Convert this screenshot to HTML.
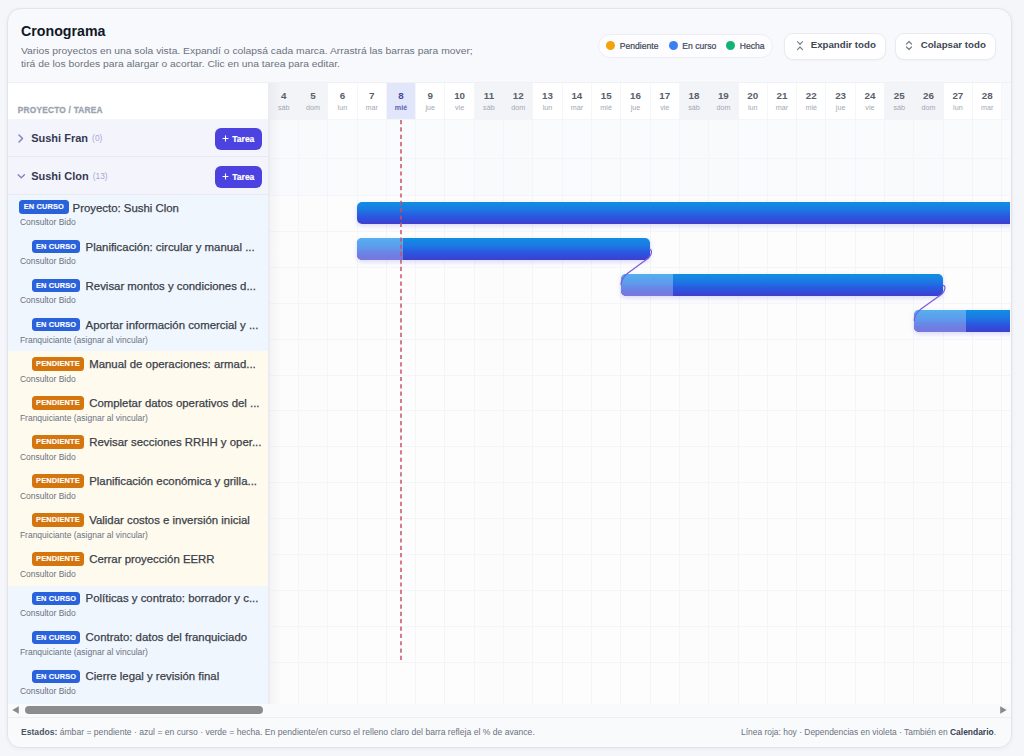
<!DOCTYPE html><html><head><meta charset="utf-8"><title>Cronograma</title><style>
*{box-sizing:border-box;margin:0;padding:0}
html,body{width:1024px;height:756px;overflow:hidden;background:#f5f6f9;font-family:"Liberation Sans",sans-serif}
.a{position:absolute}
.card{left:7px;top:8px;width:1005px;height:740px;border:1px solid #e2e4eb;border-radius:14px;background:#f8f9fc;box-shadow:0 1px 4px rgba(30,30,80,.06);overflow:hidden}
.t{white-space:nowrap;line-height:1}
.title{left:21px;top:22.8px;font-size:15.2px;font-weight:700;color:#111827;transform:scaleX(.935);transform-origin:0 0}
.sub{left:21px;font-size:9.7px;color:#6b7280;transform:scaleX(1.065);transform-origin:0 0}
.pill{left:598px;top:34px;width:175px;height:23.5px;border:1px solid #eceef3;border-radius:12px;background:#fdfdff}
.dot{width:9.5px;height:9.5px;border-radius:50%}
.lg{font-size:8.6px;color:#404755;top:41.5px;-webkit-text-stroke:.2px #404755}
.btn{top:32.5px;height:27px;border:1px solid #e8eaef;border-radius:9px;background:#fff;box-shadow:0 1px 2px rgba(20,20,50,.03)}
.bt{font-size:9.7px;font-weight:700;color:#404653;top:40px}
.hdrdiv{left:8px;top:82px;width:1003px;height:1px;background:#f0f1f5}
.lp{left:8px;top:83px;width:260.6px;height:621px;background:#fff}
.ph{left:17.7px;top:105.5px;font-size:8.3px;font-weight:700;color:#9ca3af;letter-spacing:.24px;-webkit-text-stroke:.3px #9ca3af}
.grp{left:8px;width:260px;background:#f4f5fc;border-bottom:1px solid #e8e9f3}
.gname{left:31.2px;font-size:11px;font-weight:700;color:#363a52}
.gcnt{font-size:8.4px;font-weight:400;color:#a9a7d4;position:relative;top:-1.2px;margin-left:1px}
.tb{left:214.6px;width:47px;height:22.6px;border-radius:6px;background:#4c42e0}
.tbt{font-size:8.5px;font-weight:700;color:#fff;-webkit-text-stroke:.2px #fff}
.row{left:8px;width:260px}
.rc{background:#f0f6fe}
.rp{background:#fefaee}
.badge{height:14px;border-radius:3.5px;font-size:7.4px;font-weight:700;color:#fff;line-height:14px;text-align:center;letter-spacing:.15px;-webkit-text-stroke:.15px #fff}
.bc{background:#2a62dc}
.bp{background:#d4750e}
.tt{font-size:11.4px;color:#3a3e48;-webkit-text-stroke:.25px #3a3e48}
.who{font-size:8.5px;color:#6b7280}
.tl{left:268.6px;top:83px;width:741.6px;height:621px;overflow:hidden;background:#fdfdfe}
.vl{width:1px;background:#f4f5f8}
.hl{height:1px;background:#f4f5f8}
.bar{height:22.6px;border-radius:5px;background:linear-gradient(180deg,#0f8fe2 0%,#1d78e4 35%,#2a58e0 65%,#3d3fcf 100%);box-shadow:0 2px 5px rgba(70,70,220,.2);overflow:hidden}
.prog{left:0;top:0;height:22.6px;background:linear-gradient(180deg,#55b0ee 0%,#5f98ec 45%,#6c82e4 70%,#7876dc 100%)}
.foot{left:8px;top:717px;width:1003px;height:30px;background:#f9fafc;border-top:1px solid #eceef2;border-radius:0 0 13px 13px}
.ft{font-size:8.6px;color:#6b7280;top:728px}
</style></head><body><div class="a card"></div>
<div class="a t title">Cronograma</div>
<div class="a t sub" style="top:45.5px">Varios proyectos en una sola vista. Expandí o colapsá cada marca. Arrastrá las barras para mover;</div>
<div class="a t sub" style="top:58.7px">tirá de los bordes para alargar o acortar. Clic en una tarea para editar.</div>
<div class="a pill"></div>
<div class="a dot" style="left:605.6px;top:40.9px;background:#f4a10b"></div>
<div class="a t lg" style="left:619.8px">Pendiente</div>
<div class="a dot" style="left:668.6px;top:40.9px;background:#3b7ff2"></div>
<div class="a t lg" style="left:682.3px">En curso</div>
<div class="a dot" style="left:725.5px;top:40.9px;background:#12b374"></div>
<div class="a t lg" style="left:739.8px">Hecha</div>
<div class="a btn" style="left:783.5px;width:102.6px"></div>
<svg class="a" style="left:796px;top:40px" width="8" height="11" viewBox="0 0 8 11"><path d="M1.5 1.6 L4 4.3 L6.5 1.6 M1.5 9.6 L4 7 L6.5 9.6" fill="none" stroke="#7a808a" stroke-width="1.2" stroke-linecap="round" stroke-linejoin="round"/></svg>
<div class="a t bt" style="left:810.7px">Expandir todo</div>
<div class="a btn" style="left:895.3px;width:100.8px"></div>
<svg class="a" style="left:905.2px;top:40px" width="8" height="11" viewBox="0 0 8 11"><path d="M1.5 4 L4 1.5 L6.5 4 M1.5 7 L4 9.5 L6.5 7" fill="none" stroke="#7a808a" stroke-width="1.2" stroke-linecap="round" stroke-linejoin="round"/></svg>
<div class="a t bt" style="left:920.7px">Colapsar todo</div>
<div class="a hdrdiv"></div>
<div class="a tl"><div class="a" style="left:0.00px;top:0;width:29.31px;height:36px;background:#f2f4f8"></div><div class="a t" style="left:0.00px;width:29.31px;top:7.6px;text-align:center;font-size:9.8px;font-weight:700;color:#585f6c;text-indent:1px">4</div><div class="a t" style="left:0.00px;width:29.31px;top:20.7px;text-align:center;font-size:7.2px;text-indent:1px;font-weight:400;color:#a3a8b3">sáb</div><div class="a" style="left:29.31px;top:0;width:29.31px;height:36px;background:#f2f4f8"></div><div class="a t" style="left:29.31px;width:29.31px;top:7.6px;text-align:center;font-size:9.8px;font-weight:700;color:#585f6c;text-indent:1px">5</div><div class="a t" style="left:29.31px;width:29.31px;top:20.7px;text-align:center;font-size:7.2px;text-indent:1px;font-weight:400;color:#a3a8b3">dom</div><div class="a" style="left:58.62px;top:0;width:29.31px;height:36px;background:#fff"></div><div class="a t" style="left:58.62px;width:29.31px;top:7.6px;text-align:center;font-size:9.8px;font-weight:700;color:#585f6c;text-indent:1px">6</div><div class="a t" style="left:58.62px;width:29.31px;top:20.7px;text-align:center;font-size:7.2px;text-indent:1px;font-weight:400;color:#a3a8b3">lun</div><div class="a" style="left:87.93px;top:0;width:29.31px;height:36px;background:#fff"></div><div class="a t" style="left:87.93px;width:29.31px;top:7.6px;text-align:center;font-size:9.8px;font-weight:700;color:#585f6c;text-indent:1px">7</div><div class="a t" style="left:87.93px;width:29.31px;top:20.7px;text-align:center;font-size:7.2px;text-indent:1px;font-weight:400;color:#a3a8b3">mar</div><div class="a" style="left:117.24px;top:0;width:29.31px;height:36px;background:#e2e6fb"></div><div class="a t" style="left:117.24px;width:29.31px;top:7.6px;text-align:center;font-size:9.8px;font-weight:700;color:#48489a;text-indent:1px">8</div><div class="a t" style="left:117.24px;width:29.31px;top:20.7px;text-align:center;font-size:7.2px;text-indent:1px;font-weight:700;color:#5f5db2">mié</div><div class="a" style="left:146.55px;top:0;width:29.31px;height:36px;background:#fff"></div><div class="a t" style="left:146.55px;width:29.31px;top:7.6px;text-align:center;font-size:9.8px;font-weight:700;color:#585f6c;text-indent:1px">9</div><div class="a t" style="left:146.55px;width:29.31px;top:20.7px;text-align:center;font-size:7.2px;text-indent:1px;font-weight:400;color:#a3a8b3">jue</div><div class="a" style="left:175.86px;top:0;width:29.31px;height:36px;background:#fff"></div><div class="a t" style="left:175.86px;width:29.31px;top:7.6px;text-align:center;font-size:9.8px;font-weight:700;color:#585f6c;text-indent:1px">10</div><div class="a t" style="left:175.86px;width:29.31px;top:20.7px;text-align:center;font-size:7.2px;text-indent:1px;font-weight:400;color:#a3a8b3">vie</div><div class="a" style="left:205.17px;top:0;width:29.31px;height:36px;background:#f2f4f8"></div><div class="a t" style="left:205.17px;width:29.31px;top:7.6px;text-align:center;font-size:9.8px;font-weight:700;color:#585f6c;text-indent:1px">11</div><div class="a t" style="left:205.17px;width:29.31px;top:20.7px;text-align:center;font-size:7.2px;text-indent:1px;font-weight:400;color:#a3a8b3">sáb</div><div class="a" style="left:234.48px;top:0;width:29.31px;height:36px;background:#f2f4f8"></div><div class="a t" style="left:234.48px;width:29.31px;top:7.6px;text-align:center;font-size:9.8px;font-weight:700;color:#585f6c;text-indent:1px">12</div><div class="a t" style="left:234.48px;width:29.31px;top:20.7px;text-align:center;font-size:7.2px;text-indent:1px;font-weight:400;color:#a3a8b3">dom</div><div class="a" style="left:263.79px;top:0;width:29.31px;height:36px;background:#fff"></div><div class="a t" style="left:263.79px;width:29.31px;top:7.6px;text-align:center;font-size:9.8px;font-weight:700;color:#585f6c;text-indent:1px">13</div><div class="a t" style="left:263.79px;width:29.31px;top:20.7px;text-align:center;font-size:7.2px;text-indent:1px;font-weight:400;color:#a3a8b3">lun</div><div class="a" style="left:293.10px;top:0;width:29.31px;height:36px;background:#fff"></div><div class="a t" style="left:293.10px;width:29.31px;top:7.6px;text-align:center;font-size:9.8px;font-weight:700;color:#585f6c;text-indent:1px">14</div><div class="a t" style="left:293.10px;width:29.31px;top:20.7px;text-align:center;font-size:7.2px;text-indent:1px;font-weight:400;color:#a3a8b3">mar</div><div class="a" style="left:322.41px;top:0;width:29.31px;height:36px;background:#fff"></div><div class="a t" style="left:322.41px;width:29.31px;top:7.6px;text-align:center;font-size:9.8px;font-weight:700;color:#585f6c;text-indent:1px">15</div><div class="a t" style="left:322.41px;width:29.31px;top:20.7px;text-align:center;font-size:7.2px;text-indent:1px;font-weight:400;color:#a3a8b3">mié</div><div class="a" style="left:351.72px;top:0;width:29.31px;height:36px;background:#fff"></div><div class="a t" style="left:351.72px;width:29.31px;top:7.6px;text-align:center;font-size:9.8px;font-weight:700;color:#585f6c;text-indent:1px">16</div><div class="a t" style="left:351.72px;width:29.31px;top:20.7px;text-align:center;font-size:7.2px;text-indent:1px;font-weight:400;color:#a3a8b3">jue</div><div class="a" style="left:381.03px;top:0;width:29.31px;height:36px;background:#fff"></div><div class="a t" style="left:381.03px;width:29.31px;top:7.6px;text-align:center;font-size:9.8px;font-weight:700;color:#585f6c;text-indent:1px">17</div><div class="a t" style="left:381.03px;width:29.31px;top:20.7px;text-align:center;font-size:7.2px;text-indent:1px;font-weight:400;color:#a3a8b3">vie</div><div class="a" style="left:410.34px;top:0;width:29.31px;height:36px;background:#f2f4f8"></div><div class="a t" style="left:410.34px;width:29.31px;top:7.6px;text-align:center;font-size:9.8px;font-weight:700;color:#585f6c;text-indent:1px">18</div><div class="a t" style="left:410.34px;width:29.31px;top:20.7px;text-align:center;font-size:7.2px;text-indent:1px;font-weight:400;color:#a3a8b3">sáb</div><div class="a" style="left:439.65px;top:0;width:29.31px;height:36px;background:#f2f4f8"></div><div class="a t" style="left:439.65px;width:29.31px;top:7.6px;text-align:center;font-size:9.8px;font-weight:700;color:#585f6c;text-indent:1px">19</div><div class="a t" style="left:439.65px;width:29.31px;top:20.7px;text-align:center;font-size:7.2px;text-indent:1px;font-weight:400;color:#a3a8b3">dom</div><div class="a" style="left:468.96px;top:0;width:29.31px;height:36px;background:#fff"></div><div class="a t" style="left:468.96px;width:29.31px;top:7.6px;text-align:center;font-size:9.8px;font-weight:700;color:#585f6c;text-indent:1px">20</div><div class="a t" style="left:468.96px;width:29.31px;top:20.7px;text-align:center;font-size:7.2px;text-indent:1px;font-weight:400;color:#a3a8b3">lun</div><div class="a" style="left:498.27px;top:0;width:29.31px;height:36px;background:#fff"></div><div class="a t" style="left:498.27px;width:29.31px;top:7.6px;text-align:center;font-size:9.8px;font-weight:700;color:#585f6c;text-indent:1px">21</div><div class="a t" style="left:498.27px;width:29.31px;top:20.7px;text-align:center;font-size:7.2px;text-indent:1px;font-weight:400;color:#a3a8b3">mar</div><div class="a" style="left:527.58px;top:0;width:29.31px;height:36px;background:#fff"></div><div class="a t" style="left:527.58px;width:29.31px;top:7.6px;text-align:center;font-size:9.8px;font-weight:700;color:#585f6c;text-indent:1px">22</div><div class="a t" style="left:527.58px;width:29.31px;top:20.7px;text-align:center;font-size:7.2px;text-indent:1px;font-weight:400;color:#a3a8b3">mié</div><div class="a" style="left:556.89px;top:0;width:29.31px;height:36px;background:#fff"></div><div class="a t" style="left:556.89px;width:29.31px;top:7.6px;text-align:center;font-size:9.8px;font-weight:700;color:#585f6c;text-indent:1px">23</div><div class="a t" style="left:556.89px;width:29.31px;top:20.7px;text-align:center;font-size:7.2px;text-indent:1px;font-weight:400;color:#a3a8b3">jue</div><div class="a" style="left:586.20px;top:0;width:29.31px;height:36px;background:#fff"></div><div class="a t" style="left:586.20px;width:29.31px;top:7.6px;text-align:center;font-size:9.8px;font-weight:700;color:#585f6c;text-indent:1px">24</div><div class="a t" style="left:586.20px;width:29.31px;top:20.7px;text-align:center;font-size:7.2px;text-indent:1px;font-weight:400;color:#a3a8b3">vie</div><div class="a" style="left:615.51px;top:0;width:29.31px;height:36px;background:#f2f4f8"></div><div class="a t" style="left:615.51px;width:29.31px;top:7.6px;text-align:center;font-size:9.8px;font-weight:700;color:#585f6c;text-indent:1px">25</div><div class="a t" style="left:615.51px;width:29.31px;top:20.7px;text-align:center;font-size:7.2px;text-indent:1px;font-weight:400;color:#a3a8b3">sáb</div><div class="a" style="left:644.82px;top:0;width:29.31px;height:36px;background:#f2f4f8"></div><div class="a t" style="left:644.82px;width:29.31px;top:7.6px;text-align:center;font-size:9.8px;font-weight:700;color:#585f6c;text-indent:1px">26</div><div class="a t" style="left:644.82px;width:29.31px;top:20.7px;text-align:center;font-size:7.2px;text-indent:1px;font-weight:400;color:#a3a8b3">dom</div><div class="a" style="left:674.13px;top:0;width:29.31px;height:36px;background:#fff"></div><div class="a t" style="left:674.13px;width:29.31px;top:7.6px;text-align:center;font-size:9.8px;font-weight:700;color:#585f6c;text-indent:1px">27</div><div class="a t" style="left:674.13px;width:29.31px;top:20.7px;text-align:center;font-size:7.2px;text-indent:1px;font-weight:400;color:#a3a8b3">lun</div><div class="a" style="left:703.44px;top:0;width:29.31px;height:36px;background:#fff"></div><div class="a t" style="left:703.44px;width:29.31px;top:7.6px;text-align:center;font-size:9.8px;font-weight:700;color:#585f6c;text-indent:1px">28</div><div class="a t" style="left:703.44px;width:29.31px;top:20.7px;text-align:center;font-size:7.2px;text-indent:1px;font-weight:400;color:#a3a8b3">mar</div><div class="a" style="left:732.75px;top:0;width:29.31px;height:36px;background:#f8f9fc"></div><div class="a" style="left:0.00px;top:36px;width:29.31px;height:585px;background:#fcfcfd"></div><div class="a" style="left:29.31px;top:36px;width:29.31px;height:585px;background:#fcfcfd"></div><div class="a" style="left:205.17px;top:36px;width:29.31px;height:585px;background:#fcfcfd"></div><div class="a" style="left:234.48px;top:36px;width:29.31px;height:585px;background:#fcfcfd"></div><div class="a" style="left:410.34px;top:36px;width:29.31px;height:585px;background:#fcfcfd"></div><div class="a" style="left:439.65px;top:36px;width:29.31px;height:585px;background:#fcfcfd"></div><div class="a" style="left:615.51px;top:36px;width:29.31px;height:585px;background:#fcfcfd"></div><div class="a" style="left:644.82px;top:36px;width:29.31px;height:585px;background:#fcfcfd"></div><div class="a" style="left:0;top:36px;width:742px;height:76px;background:rgba(244,245,250,.35)"></div><div class="a vl" style="left:0.00px;top:0;height:621px"></div><div class="a vl" style="left:29.31px;top:0;height:621px"></div><div class="a vl" style="left:58.62px;top:0;height:621px"></div><div class="a vl" style="left:87.93px;top:0;height:621px"></div><div class="a vl" style="left:117.24px;top:0;height:621px"></div><div class="a vl" style="left:146.55px;top:0;height:621px"></div><div class="a vl" style="left:175.86px;top:0;height:621px"></div><div class="a vl" style="left:205.17px;top:0;height:621px"></div><div class="a vl" style="left:234.48px;top:0;height:621px"></div><div class="a vl" style="left:263.79px;top:0;height:621px"></div><div class="a vl" style="left:293.10px;top:0;height:621px"></div><div class="a vl" style="left:322.41px;top:0;height:621px"></div><div class="a vl" style="left:351.72px;top:0;height:621px"></div><div class="a vl" style="left:381.03px;top:0;height:621px"></div><div class="a vl" style="left:410.34px;top:0;height:621px"></div><div class="a vl" style="left:439.65px;top:0;height:621px"></div><div class="a vl" style="left:468.96px;top:0;height:621px"></div><div class="a vl" style="left:498.27px;top:0;height:621px"></div><div class="a vl" style="left:527.58px;top:0;height:621px"></div><div class="a vl" style="left:556.89px;top:0;height:621px"></div><div class="a vl" style="left:586.20px;top:0;height:621px"></div><div class="a vl" style="left:615.51px;top:0;height:621px"></div><div class="a vl" style="left:644.82px;top:0;height:621px"></div><div class="a vl" style="left:674.13px;top:0;height:621px"></div><div class="a vl" style="left:703.44px;top:0;height:621px"></div><div class="a vl" style="left:732.75px;top:0;height:621px"></div><div class="a vl" style="left:762.06px;top:0;height:621px"></div><div class="a hl" style="left:0;top:36.00px;width:742px"></div><div class="a hl" style="left:0;top:74.60px;width:742px"></div><div class="a hl" style="left:0;top:112.00px;width:742px"></div><div class="a hl" style="left:0;top:147.90px;width:742px"></div><div class="a hl" style="left:0;top:183.80px;width:742px"></div><div class="a hl" style="left:0;top:219.70px;width:742px"></div><div class="a hl" style="left:0;top:255.60px;width:742px"></div><div class="a hl" style="left:0;top:291.50px;width:742px"></div><div class="a hl" style="left:0;top:327.40px;width:742px"></div><div class="a hl" style="left:0;top:363.30px;width:742px"></div><div class="a hl" style="left:0;top:399.20px;width:742px"></div><div class="a hl" style="left:0;top:435.10px;width:742px"></div><div class="a hl" style="left:0;top:471.00px;width:742px"></div><div class="a hl" style="left:0;top:506.90px;width:742px"></div><div class="a hl" style="left:0;top:542.80px;width:742px"></div><div class="a hl" style="left:0;top:578.70px;width:742px"></div><div class="a bar" style="left:88.23px;top:118.80px;width:849.79px"></div><div class="a bar" style="left:88.23px;top:154.70px;width:292.90px"><div class="a prog" style="width:46.37px"></div></div><div class="a bar" style="left:352.02px;top:190.60px;width:322.21px"><div class="a prog" style="width:52.18px"></div></div><div class="a bar" style="left:645.12px;top:226.50px;width:322.21px"><div class="a prog" style="width:52.28px"></div></div><svg class="a" style="left:0;top:0" width="742" height="620"><path d="M380.1 166.2 C383.6 166.2,383.1 171.7,379.1 175.2 L358.7 190.3 C353.7 194.3,352.0 197.3,352.0 202.3" fill="none" stroke="#7d5cdc" stroke-width="1.25"/><path d="M673.6 202.3 C677.1 202.3,676.6 207.8,672.6 211.3 L652.0 226.0 C647.0 230.0,645.3 233.0,645.3 238.0" fill="none" stroke="#7d5cdc" stroke-width="1.25"/></svg><svg class="a" style="left:131.20px;top:37px" width="2" height="540"><line x1="1" y1="0" x2="1" y2="540" stroke="#c65263" stroke-width="1.5" stroke-dasharray="4.2 3.14"/></svg><div class="a" style="left:0;top:0;width:12px;height:621px;background:linear-gradient(90deg,rgba(20,30,60,.04),rgba(20,30,60,0))"></div></div>
<div class="a lp"></div>
<div class="a" style="left:268px;top:83px;width:1px;height:621px;background:#e9ebf1"></div>
<div class="a" style="left:8px;top:118.5px;width:260.6px;height:1px;background:#eceef3"></div>
<div class="a t ph">PROYECTO / TAREA</div>
<div class="a grp" style="top:119px;height:38.3px"></div>
<svg class="a" style="left:17px;top:134px" width="8" height="9" viewBox="0 0 8 9"><path d="M2 1 L5.5 4.5 L2 8" fill="none" stroke="#8583c0" stroke-width="1.45" stroke-linecap="round" stroke-linejoin="round"/></svg>
<div class="a t gname" style="top:133.2px">Sushi Fran <span class="gcnt">(0)</span></div>
<div class="a tb" style="top:127.5px"></div><svg class="a" style="left:221.8px;top:135.4px" width="7" height="7" viewBox="0 0 7 7"><path d="M3.5 0.6 V6.4 M0.6 3.5 H6.4" stroke="#fff" stroke-width="1.1"/></svg><div class="a t tbt" style="left:232.3px;top:134.5px">Tarea</div>
<div class="a grp" style="top:157.3px;height:37.7px"></div>
<svg class="a" style="left:16.5px;top:173px" width="9" height="7" viewBox="0 0 9 7"><path d="M1.2 1.7 L4.3 4.8 L7.4 1.7" fill="none" stroke="#8583c0" stroke-width="1.45" stroke-linecap="round" stroke-linejoin="round"/></svg>
<div class="a t gname" style="top:171.3px">Sushi Clon <span class="gcnt">(13)</span></div>
<div class="a tb" style="top:165.5px"></div><svg class="a" style="left:221.8px;top:173.4px" width="7" height="7" viewBox="0 0 7 7"><path d="M3.5 0.6 V6.4 M0.6 3.5 H6.4" stroke="#fff" stroke-width="1.1"/></svg><div class="a t tbt" style="left:232.3px;top:172.5px">Tarea</div>
<div class="a row rc" style="top:195.00px;height:39.08px"></div>
<div class="a t badge bc" style="left:19.20px;top:200.10px;width:49.40px;height:14.10px;line-height:14.10px">EN CURSO</div>
<div class="a t tt" style="left:72.60px;top:202.50px">Proyecto: Sushi Clon</div>
<div class="a t who" style="left:19.9px;top:218.30px">Consultor Bido</div>
<div class="a row rc" style="top:234.08px;height:39.08px"></div>
<div class="a t badge bc" style="left:32.20px;top:240.08px;width:47.90px;height:13.20px;line-height:13.20px">EN CURSO</div>
<div class="a t tt" style="left:85.60px;top:241.58px">Planificación: circular y manual ...</div>
<div class="a t who" style="left:19.9px;top:257.38px">Consultor Bido</div>
<div class="a row rc" style="top:273.16px;height:39.08px"></div>
<div class="a t badge bc" style="left:32.20px;top:279.16px;width:47.90px;height:13.20px;line-height:13.20px">EN CURSO</div>
<div class="a t tt" style="left:85.60px;top:280.66px">Revisar montos y condiciones d...</div>
<div class="a t who" style="left:19.9px;top:296.46px">Consultor Bido</div>
<div class="a row rc" style="top:312.24px;height:39.08px"></div>
<div class="a t badge bc" style="left:32.20px;top:318.24px;width:47.90px;height:13.20px;line-height:13.20px">EN CURSO</div>
<div class="a t tt" style="left:85.60px;top:319.74px">Aportar información comercial y ...</div>
<div class="a t who" style="left:19.9px;top:335.54px">Franquiciante (asignar al vincular)</div>
<div class="a row rp" style="top:351.32px;height:39.08px"></div>
<div class="a t badge bp" style="left:32.10px;top:356.72px;width:51.60px;height:14.00px;line-height:14.00px">PENDIENTE</div>
<div class="a t tt" style="left:89.20px;top:358.82px">Manual de operaciones: armad...</div>
<div class="a t who" style="left:19.9px;top:374.62px">Consultor Bido</div>
<div class="a row rp" style="top:390.40px;height:39.08px"></div>
<div class="a t badge bp" style="left:32.10px;top:395.80px;width:51.60px;height:14.00px;line-height:14.00px">PENDIENTE</div>
<div class="a t tt" style="left:89.20px;top:397.90px">Completar datos operativos del ...</div>
<div class="a t who" style="left:19.9px;top:413.70px">Franquiciante (asignar al vincular)</div>
<div class="a row rp" style="top:429.48px;height:39.08px"></div>
<div class="a t badge bp" style="left:32.10px;top:434.88px;width:51.60px;height:14.00px;line-height:14.00px">PENDIENTE</div>
<div class="a t tt" style="left:89.20px;top:436.98px">Revisar secciones RRHH y oper...</div>
<div class="a t who" style="left:19.9px;top:452.78px">Consultor Bido</div>
<div class="a row rp" style="top:468.56px;height:39.08px"></div>
<div class="a t badge bp" style="left:32.10px;top:473.96px;width:51.60px;height:14.00px;line-height:14.00px">PENDIENTE</div>
<div class="a t tt" style="left:89.20px;top:476.06px">Planificación económica y grilla...</div>
<div class="a t who" style="left:19.9px;top:491.86px">Consultor Bido</div>
<div class="a row rp" style="top:507.64px;height:39.08px"></div>
<div class="a t badge bp" style="left:32.10px;top:513.04px;width:51.60px;height:14.00px;line-height:14.00px">PENDIENTE</div>
<div class="a t tt" style="left:89.20px;top:515.14px">Validar costos e inversión inicial</div>
<div class="a t who" style="left:19.9px;top:530.94px">Franquiciante (asignar al vincular)</div>
<div class="a row rp" style="top:546.72px;height:39.08px"></div>
<div class="a t badge bp" style="left:32.10px;top:552.12px;width:51.60px;height:14.00px;line-height:14.00px">PENDIENTE</div>
<div class="a t tt" style="left:89.20px;top:554.22px">Cerrar proyección EERR</div>
<div class="a t who" style="left:19.9px;top:570.02px">Consultor Bido</div>
<div class="a row rc" style="top:585.80px;height:39.08px"></div>
<div class="a t badge bc" style="left:32.20px;top:591.80px;width:47.90px;height:13.20px;line-height:13.20px">EN CURSO</div>
<div class="a t tt" style="left:85.60px;top:593.30px">Políticas y contrato: borrador y c...</div>
<div class="a t who" style="left:19.9px;top:609.10px">Consultor Bido</div>
<div class="a row rc" style="top:624.88px;height:39.08px"></div>
<div class="a t badge bc" style="left:32.20px;top:630.88px;width:47.90px;height:13.20px;line-height:13.20px">EN CURSO</div>
<div class="a t tt" style="left:85.60px;top:632.38px">Contrato: datos del franquiciado</div>
<div class="a t who" style="left:19.9px;top:648.18px">Franquiciante (asignar al vincular)</div>
<div class="a row rc" style="top:663.96px;height:40.04px"></div>
<div class="a t badge bc" style="left:32.20px;top:669.96px;width:47.90px;height:13.20px;line-height:13.20px">EN CURSO</div>
<div class="a t tt" style="left:85.60px;top:671.46px">Cierre legal y revisión final</div>
<div class="a t who" style="left:19.9px;top:687.26px">Consultor Bido</div>
<div class="a" style="left:8px;top:704px;width:1003px;height:14px;background:#f9fafc"></div>
<svg class="a" style="left:11px;top:705px" width="9" height="10" viewBox="0 0 9 10"><path d="M1.3 5 L7.8 1.2 L7.8 8.8 Z" fill="#8a8a8a"/></svg>
<div class="a" style="left:24.6px;top:705.8px;width:238.4px;height:8.2px;border-radius:4.1px;background:#8c8c8c"></div>
<svg class="a" style="left:998.5px;top:705px" width="9" height="10" viewBox="0 0 9 10"><path d="M7.7 5 L1.2 1.2 L1.2 8.8 Z" fill="#8a8a8a"/></svg>
<div class="a foot"></div>
<div class="a t ft" style="left:21px"><b style="color:#4b5563">Estados:</b> ámbar = pendiente · azul = en curso · verde = hecha. En pendiente/en curso el relleno claro del barra refleja el % de avance.</div>
<div class="a t ft" style="right:28px;font-size:8.45px">Línea roja: hoy · Dependencias en violeta · También en <b style="color:#374151">Calendario</b>.</div></body></html>
